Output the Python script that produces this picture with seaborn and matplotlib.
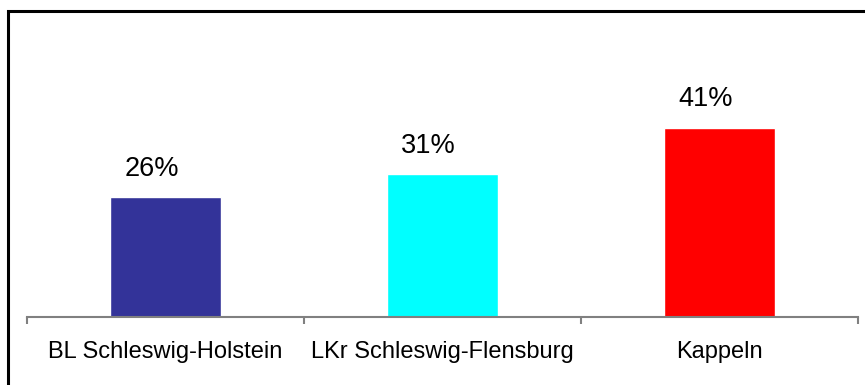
import matplotlib
matplotlib.use("Agg")
import matplotlib.pyplot as plt
import matplotlib.patches as patches
import seaborn as sns
import pandas as pd

# Daten
regionen = ["BL Schleswig-Holstein", "LKr Schleswig-Flensburg", "Kappeln"]
anteile = [0.26, 0.31, 0.41]
beschriftungen = ["26%", "31%", "41%"]
farben = ["#333399", "#00FFFF", "#FF0000"]

df = pd.DataFrame({"region": regionen, "anteil": anteile})

sns.set_style("white")
plt.rcParams["font.family"] = ["Liberation Sans", "DejaVu Sans"]

fig = plt.figure(figsize=(8.65, 3.85), dpi=100)
ax = fig.add_axes([27 / 865, 68 / 385, 831 / 865, 231 / 385])

sns.barplot(data=df, x="region", y="anteil", hue="region", palette=farben,
            width=0.4, saturation=1, legend=False, ax=ax)

ax.set_xlim(-0.5, 2.5)
ax.set_ylim(0, 0.5)
ax.set_xlabel("")
ax.set_ylabel("")
ax.set_yticks([])

# Werte über den Balken
for i, (wert, text) in enumerate(zip(anteile, beschriftungen)):
    ax.annotate(text, (i, wert), xytext=(-10, 11), textcoords="offset points",
                ha="center", va="bottom", fontsize=19.5, color="black")

# Achse
for side in ["top", "left", "right"]:
    ax.spines[side].set_visible(False)
ax.spines["bottom"].set_color("#808080")
ax.spines["bottom"].set_linewidth(1.5)
ax.set_xticks([-0.5, 0.5, 1.5, 2.5], minor=True)
ax.tick_params(axis="x", which="minor", bottom=True, length=5, width=1.5,
               color="#808080", direction="out")
ax.tick_params(axis="x", which="major", length=0, pad=17, labelsize=17,
               labelcolor="black")

# Rahmen um das Diagramm
rahmen = patches.Rectangle((8 / 865, -0.1), 1.0, (385 - 11.5) / 385 + 0.1,
                           transform=fig.transFigure, fill=False,
                           edgecolor="black", linewidth=2.2, clip_on=False)
fig.patches.append(rahmen)

fig.savefig("out.png", dpi=100)
